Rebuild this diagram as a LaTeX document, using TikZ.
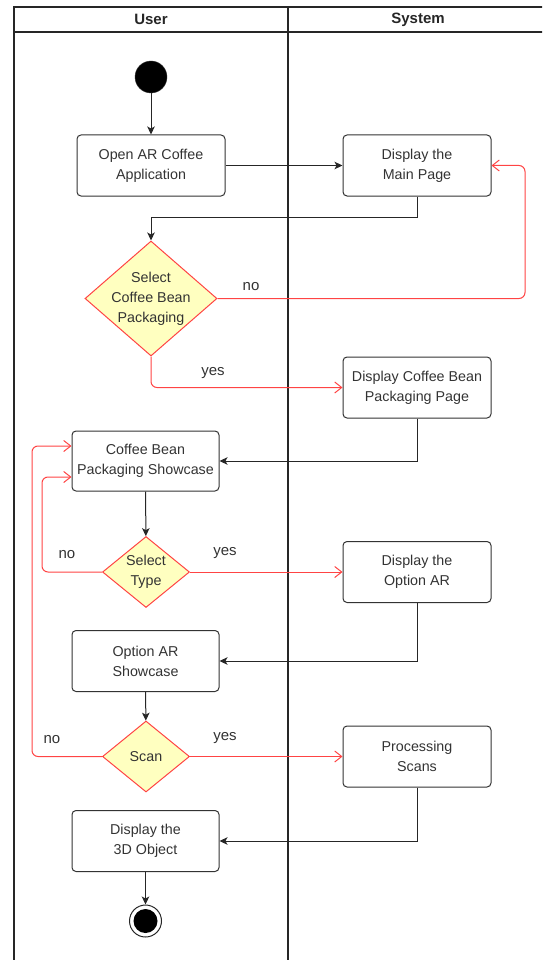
\documentclass[tikz,border=0pt]{standalone}
\usepackage{fontspec}
\setmainfont{Liberation Sans}
\usetikzlibrary{shapes.geometric,arrows.meta,calc}
\definecolor{lred}{HTML}{FF4444}
\definecolor{dyel}{HTML}{FFFFC0}
\definecolor{tx}{HTML}{333333}
\begin{document}
\begin{tikzpicture}[x=1pt,y=-1pt,
  lane/.style={draw=black!85,line width=1.4pt},
  box/.style={draw=black!80,line width=1pt,rounded corners=4pt,minimum width=148pt,minimum height=61pt,
    inner xsep=2pt,align=center,text=tx,font=\fontsize{14.3}{20}\selectfont},
  dia/.style={diamond,draw=lred,fill=dyel,line width=1pt,inner sep=0pt},
  dtext/.style={align=center,text=tx,font=\fontsize{14.3}{20}\selectfont,inner sep=0pt},
  lbl/.style={text=tx,font=\fontsize{15}{18}\selectfont,inner sep=0pt},
  hdr/.style={font=\fontsize{15}{18}\selectfont\bfseries,text=black!85},
  arr/.style={draw=black!85,line width=1pt,-{Stealth[length=8pt,width=7.5pt,inset=2pt]}},
  rarr/.style={draw=lred,line width=1pt,rounded corners=6pt,-{Straight Barb[length=7pt,width=11pt]}}
]
\useasboundingbox (0,0) rectangle (542,960);
\clip (0,0) rectangle (542,960);
% lanes
\draw[lane] (14,962) -- (14,7) -- (550,7);
\draw[lane] (14,32) -- (550,32);
\draw[lane] (288,7) -- (288,962);
\node[hdr] (huser) at (151,19.5) {User};
\node[hdr] (hsys) at (418,19.5) {System};
% nodes
\node[circle,fill=black,draw=black!80,minimum size=32pt,inner sep=0pt] (start) at (151,77) {};
\node[box] (open) at (151,165.5) {Open AR Coffee\\Application};
\node[box] (main) at (417,165.5) {Display the\\Main Page};
\node[dia,minimum width=132pt,minimum height=115pt,
  label={[dtext]center:{Select\\Coffee Bean\\Packaging}}] (d1) at (151,298.5) {};
\node[box] (dpkg) at (417,387.5) {Display Coffee Bean\\Packaging Page};
\node[box,minimum width=147pt,minimum height=60pt] (show) at (145.5,461) {Coffee Bean\\Packaging Showcase};
\node[dia,minimum width=87pt,minimum height=71pt,
  label={[dtext]center:{Select\\Type}}] (st) at (146,572) {};
\node[box] (dopt) at (417,572) {Display the\\Option AR};
\node[box,minimum width=147pt] (oshow) at (145.5,661) {Option AR\\Showcase};
\node[dia,minimum width=87pt,minimum height=71pt,
  label={[dtext]center:{Scan}}] (scan) at (146,756.5) {};
\node[box] (proc) at (417,756.5) {Processing\\Scans};
\node[box,minimum width=147pt] (d3d) at (145.5,841) {Display the\\3D Object};
\node[circle,draw=black!85,line width=1pt,minimum size=32pt,inner sep=0pt] (endc) at (145.5,921) {};
\fill[black] (endc.center) circle (12pt);
% helper coordinates
\coordinate (r1) at (525,165.5);
\coordinate (k1) at (42,477);
\coordinate (k2) at (32,446);
% connectors
\draw[arr] (start) -- (open);
\draw[arr] (open) -- (main);
\draw[arr] (main.south) -- ++(0,21) -| (d1.north);
\draw[rarr] (d1.east) -| (r1) -- (main.east);
\draw[rarr] (d1.south) |- (dpkg.west);
\draw[arr] (dpkg.south) |- (show.east);
\draw[arr] (show) -- (st);
\draw[rarr] (st) -- (dopt);
\draw[rarr] (st.west) -| (k1) -- ($(show.west)+(0,16)$);
\draw[arr] (dopt.south) |- (oshow.east);
\draw[arr] (oshow) -- (scan);
\draw[rarr] (scan) -- (proc);
\draw[rarr] (scan.west) -| (k2) -- ($(show.west)+(0,-15)$);
\draw[arr] (proc.south) |- (d3d.east);
\draw[arr] (d3d) -- (endc);
% labels
\node[lbl] (l1) at (251,287) {no};
\node[lbl] (l2) at (213,373) {yes};
\node[lbl] (l3) at (67,555) {no};
\node[lbl] (l4) at (225,553) {yes};
\node[lbl] (l5) at (52,740) {no};
\node[lbl] (l6) at (225,738) {yes};
\end{tikzpicture}
\end{document}
